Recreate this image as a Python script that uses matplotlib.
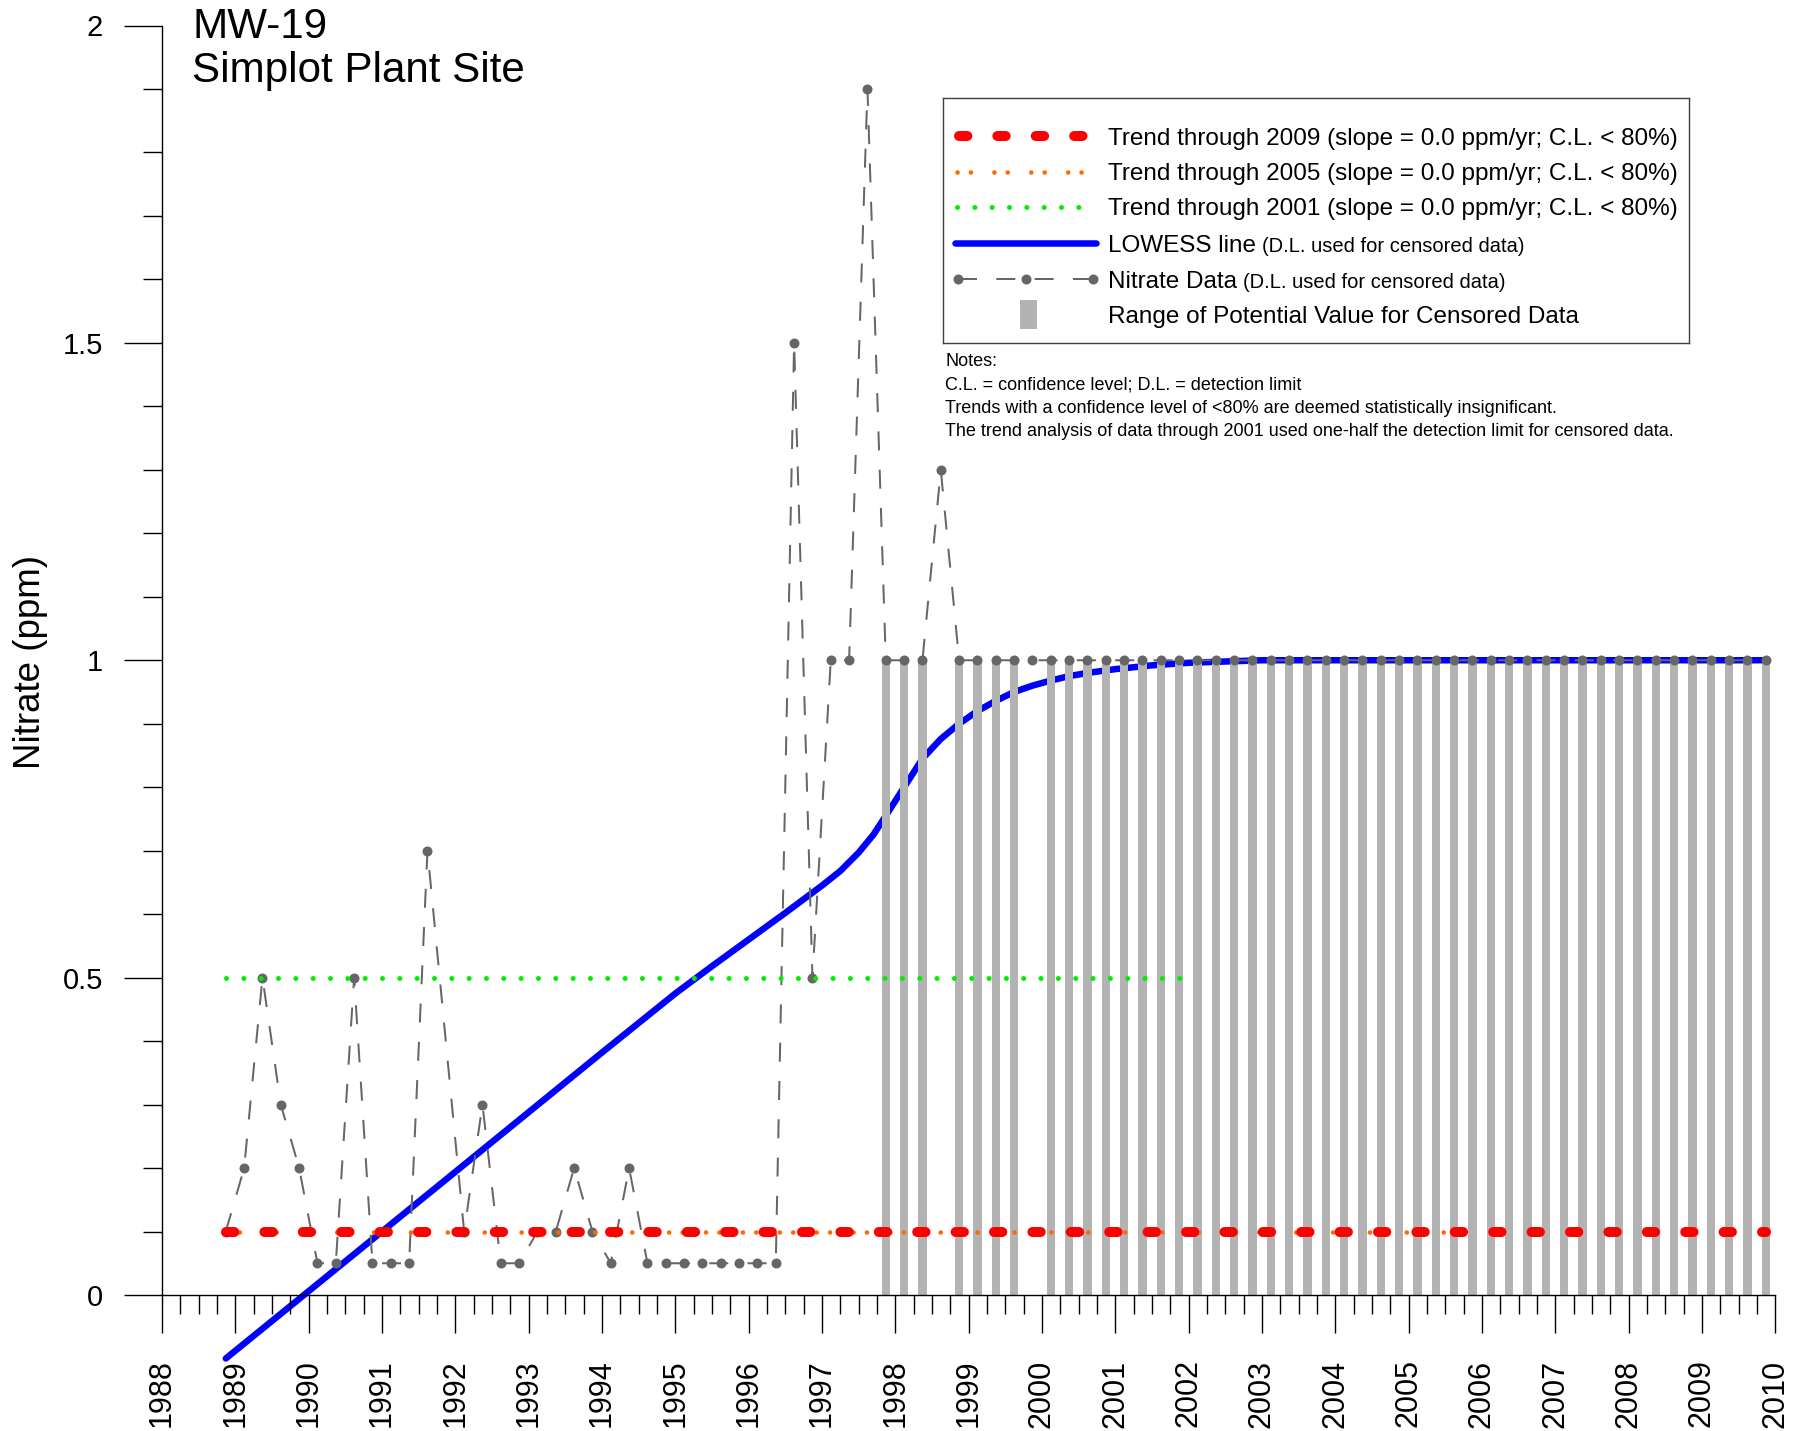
# Nitrate concentrations at MW-19 with trend lines and LOWESS fit
import matplotlib
matplotlib.use("Agg")
import matplotlib.pyplot as plt
from matplotlib.patches import Rectangle
from matplotlib.ticker import MultipleLocator, FuncFormatter

plt.rcParams['font.family'] = ['Liberation Sans', 'DejaVu Sans']

# Sampling dates (decimal years) and nitrate results (ppm)
sample_year = [
    1988.87,
    1989.12, 1989.37, 1989.62, 1989.87,
    1990.12, 1990.37, 1990.62, 1990.87,
    1991.12, 1991.37, 1991.62,
    1992.12, 1992.37, 1992.62, 1992.87,
    1993.12, 1993.37, 1993.62, 1993.87,
    1994.12, 1994.37, 1994.62, 1994.87,
    1995.12, 1995.37, 1995.62, 1995.87,
    1996.12, 1996.37, 1996.62, 1996.87,
    1997.12, 1997.37, 1997.62, 1997.87,
    1998.12, 1998.37, 1998.62, 1998.87,
    1999.12, 1999.37, 1999.62, 1999.87,
    2000.12, 2000.37, 2000.62, 2000.87,
    2001.12, 2001.37, 2001.62, 2001.87,
    2002.12, 2002.37, 2002.62, 2002.87,
    2003.12, 2003.37, 2003.62, 2003.87,
    2004.12, 2004.37, 2004.62, 2004.87,
    2005.12, 2005.37, 2005.62, 2005.87,
    2006.12, 2006.37, 2006.62, 2006.87,
    2007.12, 2007.37, 2007.62, 2007.87,
    2008.12, 2008.37, 2008.62, 2008.87,
    2009.12, 2009.37, 2009.62, 2009.87,
]
nitrate = [
    0.1,
    0.2, 0.5, 0.3, 0.2,
    0.05, 0.05, 0.5, 0.05,
    0.05, 0.05, 0.7,
    0.1, 0.3, 0.05, 0.05,
    0.1, 0.1, 0.2, 0.1,
    0.05, 0.2, 0.05, 0.05,
    0.05, 0.05, 0.05, 0.05,
    0.05, 0.05, 1.5, 0.5,
    1.0, 1.0, 1.9, 1.0,
    1.0, 1.0, 1.3, 1.0,
    1.0, 1.0, 1.0, 1.0,
    1.0, 1.0, 1.0, 1.0,
    1.0, 1.0, 1.0, 1.0,
    1.0, 1.0, 1.0, 1.0,
    1.0, 1.0, 1.0, 1.0,
    1.0, 1.0, 1.0, 1.0,
    1.0, 1.0, 1.0, 1.0,
    1.0, 1.0, 1.0, 1.0,
    1.0, 1.0, 1.0, 1.0,
    1.0, 1.0, 1.0, 1.0,
    1.0, 1.0, 1.0, 1.0,
]
# 1 = below detection limit (plotted at the D.L.)
censored = [
    0,
    0, 0, 0, 0,
    0, 0, 0, 0,
    0, 0, 0,
    0, 0, 0, 0,
    0, 0, 0, 0,
    0, 0, 0, 0,
    0, 0, 0, 0,
    0, 0, 0, 0,
    0, 0, 0, 1,
    1, 1, 0, 1,
    1, 1, 1, 0,
    1, 1, 1, 1,
    1, 1, 1, 1,
    1, 1, 1, 1,
    1, 1, 1, 1,
    1, 1, 1, 1,
    1, 1, 1, 1,
    1, 1, 1, 1,
    1, 1, 1, 1,
    1, 1, 1, 1,
    1, 1, 1, 1,
]

# LOWESS smooth
lowess_year = [1988.87, 1990.0, 1991.0, 1992.0, 1993.0, 1994.0, 1995.0, 1995.5,
               1996.0, 1996.5, 1997.0, 1997.25, 1997.5, 1997.7, 1997.87, 1998.12,
               1998.37, 1998.62, 1998.87, 1999.12, 1999.37, 1999.62, 1999.87,
               2000.12, 2000.37, 2000.62, 2001.0, 2001.5, 2002.0, 2002.5, 2003.0,
               2009.87]
lowess_val = [-0.1, 0.006, 0.1, 0.194, 0.288, 0.382, 0.475, 0.518,
              0.56, 0.602, 0.645, 0.668, 0.697, 0.725, 0.755, 0.80,
              0.845, 0.876, 0.90, 0.92, 0.936, 0.95, 0.96,
              0.968, 0.975, 0.98, 0.986, 0.992, 0.996, 0.998, 1.0,
              1.0]

# Sen-slope trend lines: (start, end), level
trend_2009_x = [1988.87, 2009.87]
trend_2009_y = [0.1, 0.1]
trend_2005_x = [1988.87, 2005.87]
trend_2005_y = [0.1, 0.1]
trend_2001_x = [1988.87, 2001.9]
trend_2001_y = [0.5, 0.5]

detection_limit = 1.0
years = list(range(1988, 2011))

legend_labels = [
    "Trend through 2009 (slope = 0.0 ppm/yr; C.L. < 80%)",
    "Trend through 2005 (slope = 0.0 ppm/yr; C.L. < 80%)",
    "Trend through 2001 (slope = 0.0 ppm/yr; C.L. < 80%)",
    "LOWESS line",
    "Nitrate Data",
    "Range of Potential Value for Censored Data",
]
notes = [
    "Notes:",
    "C.L. = confidence level; D.L. = detection limit",
    "Trends with a confidence level of <80% are deemed statistically insignificant.",
    "The trend analysis of data through 2001 used one-half the detection limit for censored data.",
]

W, H = 1814, 1431
PT = 72 / 100  # points per pixel at 100 dpi

# line styles (pixel sizes converted to points; dashes scale with linewidth)
RED = dict(color='#ff0000', lw=10 * PT, dash_capstyle='round',
           linestyle=(0, (8.3 / 10, 30.1 / 10)))
ORANGE = dict(color='#ff6a00', lw=4.6 * PT, dash_capstyle='round',
              linestyle=(0, (0.02, 13.3 / 4.6, 0.02, 23.4 / 4.6)))
GREEN = dict(color='#00ee00', lw=5 * PT, dash_capstyle='round',
             linestyle=(0, (0.01, 17.28 / 5)))
BLUE = dict(color='#0000ff', lw=6.5 * PT, solid_capstyle='round')
GRAY = dict(color='#666666', lw=2 * PT, linestyle=(0, (19 / 2, 19.3 / 2)),
            marker='o', markersize=10 * PT, markeredgewidth=0)
BAR_COLOR = '#b3b3b3'


def fx(px):
    return px / W


def fy(py):
    return 1 - py / H


def main():
    fig = plt.figure(figsize=(W / 100, H / 100), dpi=100)
    ax = fig.add_axes([fx(162), fy(1295), (1775.3 - 162) / W, (1295 - 25.5) / H])

    ax.plot(lowess_year, lowess_val, zorder=1, clip_on=False, **BLUE)

    cx = [x for x, c in zip(sample_year, censored) if c]
    ax.bar(cx, [detection_limit] * len(cx), width=0.113, color=BAR_COLOR,
           zorder=2, linewidth=0)

    ax.plot(sample_year, nitrate, zorder=3, markerfacecolor='#666666', **GRAY)
    ax.plot(trend_2001_x, trend_2001_y, zorder=5, **GREEN)
    ax.plot(trend_2005_x, trend_2005_y, zorder=4, **ORANGE)
    ax.plot(trend_2009_x, trend_2009_y, zorder=6, **RED)

    ax.set_xlim(1988, 2010)
    ax.set_ylim(0, 2)
    for s in ('top', 'right'):
        ax.spines[s].set_visible(False)
    for s in ('left', 'bottom'):
        ax.spines[s].set_linewidth(1.4 * PT)
    ax.set_xticks(years)
    ax.set_xticklabels([str(y) for y in years], rotation=90, fontsize=22)
    ax.xaxis.set_minor_locator(MultipleLocator(0.25))
    ax.yaxis.set_major_locator(MultipleLocator(0.5))
    ax.yaxis.set_minor_locator(MultipleLocator(0.1))
    ax.yaxis.set_major_formatter(FuncFormatter(lambda v, p: '%g' % v))
    ax.tick_params(axis='y', labelsize=21)
    ax.tick_params(which='major', length=38 * PT, width=1.4 * PT, pad=15)
    ax.tick_params(which='minor', length=19 * PT, width=1.4 * PT)
    ax.tick_params(axis='x', which='major', pad=19)

    fig.text(fx(192), fy(38), 'MW-19', fontsize=30.3, va='baseline')
    fig.text(fx(192), fy(82), 'Simplot Plant Site', fontsize=30.3, va='baseline')
    fig.text(fx(31), fy(662), 'Nitrate (ppm)', fontsize=26.5, rotation=90,
             ha='center', va='center')

    # legend box, drawn in pixel coordinates
    lax = fig.add_axes([fx(943), fy(343), (1689 - 943) / W, (343 - 98) / H])
    lax.set_xlim(943, 1689)
    lax.set_ylim(343, 98)
    lax.set_xticks([])
    lax.set_yticks([])
    for s in lax.spines.values():
        s.set_color('#404040')
        s.set_linewidth(1.4 * PT)
    lax.patch.set_alpha(0)

    rows = [136, 171.5, 207, 243, 279, 314.5]
    lax.plot([959, 1083], [rows[0]] * 2, **RED)
    lax.plot([956.7, 1082], [rows[1]] * 2, **ORANGE)
    lax.plot([956.7, 1080], [rows[2]] * 2, **GREEN)
    lax.plot([955, 1096], [rows[3]] * 2, **BLUE)
    lax.plot([958, 1025.7, 1092.7], [rows[4]] * 3, markerfacecolor='#666666',
             **GRAY)
    lax.add_patch(Rectangle((1020, 300), 17, 29, color=BAR_COLOR, lw=0))

    renderer = fig.canvas.get_renderer()
    for i, (label, y) in enumerate(zip(legend_labels, rows)):
        t = lax.text(1108, y + 8.5, label, fontsize=17.45, va='baseline')
        if i in (3, 4):
            bb = t.get_window_extent(renderer).transformed(lax.transData.inverted())
            lax.text(bb.x1 + 6, y + 8.5, "(D.L. used for censored data)",
                     fontsize=14.5, va='baseline')

    for line, y in zip(notes, [360.5, 384, 407, 430]):
        fig.text(fx(945), fy(y + 6), line, fontsize=13.0, va='baseline')

    fig.savefig('out.png', dpi=100)


if __name__ == '__main__':
    main()
